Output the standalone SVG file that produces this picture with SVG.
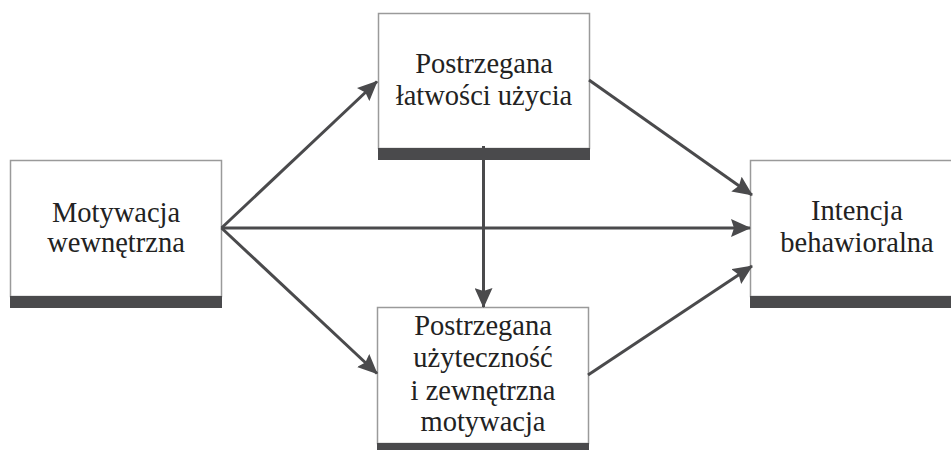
<svg xmlns="http://www.w3.org/2000/svg" width="951" height="450" viewBox="0 0 951 450">
  <style>
    .box { fill: #ffffff; stroke: #9a9a9a; stroke-width: 1.5; }
    .bar { fill: #4a4a4c; }
    .label { font-family: "Liberation Serif", "DejaVu Serif", serif; font-size: 28.5px; fill: #222222; text-anchor: middle; }
    .link { stroke: #4a4a4c; stroke-width: 3; fill: none; marker-end: url(#head); }
  </style>
  <defs>
    <marker id="head" markerUnits="userSpaceOnUse" markerWidth="20" markerHeight="18" viewBox="0 0 20 18" refX="19" refY="9" orient="auto">
      <path d="M0,0 L20,9 L0,18 L3,9 z" fill="#4a4a4c"/>
    </marker>
  </defs>
  <rect width="951" height="450" fill="#ffffff"/>

  <g id="motywacja-wewnetrzna">
    <rect class="box" x="10.5" y="160.5" width="211" height="136"/>
    <rect class="bar" x="10" y="296" width="212" height="12"/>
    <text class="label" x="116" y="222">Motywacja</text>
    <text class="label" x="116" y="252">wewnętrzna</text>
  </g>

  <g id="latwosc-uzycia">
    <rect class="box" x="378.5" y="13.5" width="211" height="135"/>
    <rect class="bar" x="378" y="148" width="212" height="12"/>
    <text class="label" x="484" y="73">Postrzegana</text>
    <text class="label" x="484" y="105">łatwości użycia</text>
  </g>

  <g id="uzytecznosc">
    <rect class="box" x="377.5" y="307.5" width="211" height="136"/>
    <rect class="bar" x="377" y="443" width="212" height="8"/>
    <text class="label" x="483" y="335">Postrzegana</text>
    <text class="label" x="483" y="367">użyteczność</text>
    <text class="label" x="483" y="400">i zewnętrzna</text>
    <text class="label" x="483" y="431">motywacja</text>
  </g>

  <g id="intencja-behawioralna">
    <rect class="box" x="750.5" y="160.5" width="215" height="136"/>
    <rect class="bar" x="750" y="296" width="205" height="12"/>
    <text class="label" x="857" y="220">Intencja</text>
    <text class="label" x="857" y="252">behawioralna</text>
  </g>

  <g id="connectors">
    <line class="link" x1="221.5" y1="228" x2="377" y2="81.5"/>
    <line class="link" x1="221.5" y1="228" x2="750" y2="228"/>
    <line class="link" x1="221.5" y1="228" x2="377" y2="373.5"/>
    <line class="link" x1="483.5" y1="146" x2="483.5" y2="307"/>
    <line class="link" x1="589" y1="80" x2="752" y2="195"/>
    <line class="link" x1="588" y1="375" x2="752" y2="266"/>
  </g>
</svg>
